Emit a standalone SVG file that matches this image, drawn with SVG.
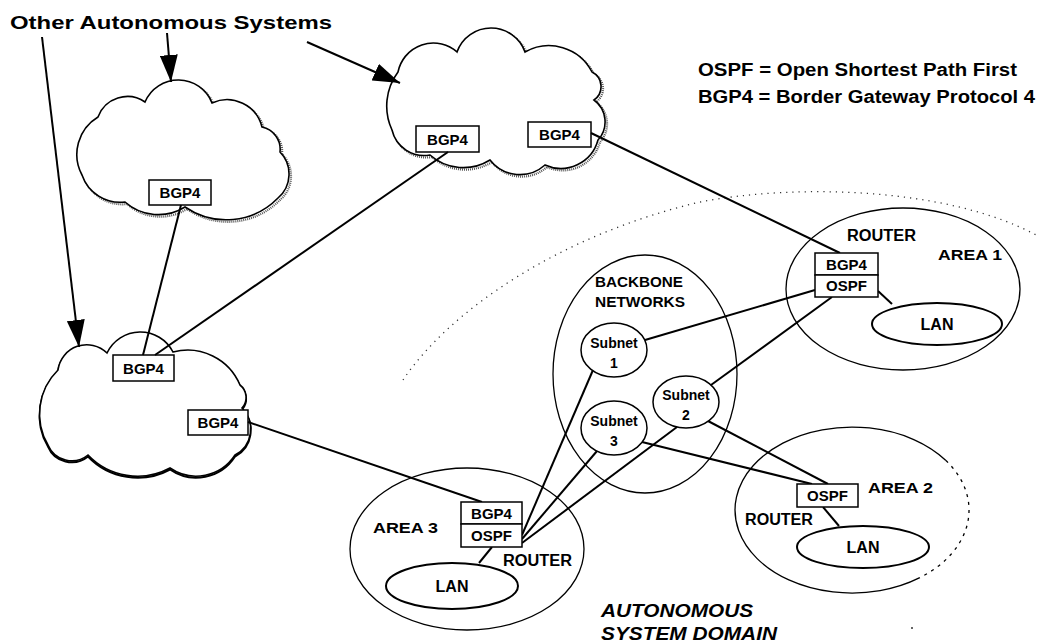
<svg xmlns="http://www.w3.org/2000/svg" width="1038" height="642" viewBox="0 0 1038 642">
<style>
.t{font-family:"Liberation Sans",Arial,Helvetica,sans-serif;font-weight:bold;fill:#000}
.c{text-anchor:middle}
.box{fill:#fff;stroke:#000;stroke-width:1.5}
.ell{fill:none;stroke:#000;stroke-width:1.3}
.lan{fill:#fff;stroke:#000;stroke-width:2}
.sub{fill:#fff;stroke:#000;stroke-width:1.5}
.cloud{fill:#fff;stroke:#000;stroke-width:1.6}
.shadow{fill:none;stroke:#555;stroke-width:2.2;stroke-dasharray:1 1}
.shadow2{fill:none;stroke:#000;stroke-width:2}
.conn{stroke:#000;stroke-width:2;fill:none}
.arrow{stroke:#000;stroke-width:2;fill:none;marker-end:url(#ah)}
.dot{stroke:#333;fill:none;stroke-width:1.3;stroke-dasharray:1.2 5}
</style>
<defs>
<marker id="ah" markerUnits="userSpaceOnUse" markerWidth="28" markerHeight="18" refX="27" refY="9" orient="auto">
<path d="M0,0 L27,9 L0,18 Z" fill="#000"/>
</marker>
</defs>
<rect width="1038" height="642" fill="#fff"/>

<!-- domain boundary -->
<path id="domain" class="dot" d="M403,380 C450,310 560,235 700,202 C800,183 950,188 1038,236"/>
<circle cx="912" cy="628" r="1" fill="#333"/>

<text class="t" x="10" y="29" font-size="18" textLength="322" lengthAdjust="spacingAndGlyphs">Other Autonomous Systems</text>
<text class="t" x="698" y="76" font-size="18" textLength="319" lengthAdjust="spacingAndGlyphs">OSPF = Open Shortest Path First</text>
<text class="t" x="698" y="103" font-size="18" textLength="337" lengthAdjust="spacingAndGlyphs">BGP4 = Border Gateway Protocol 4</text>

<g id="cloud1">
<path class="shadow" transform="translate(2,2)" d="M82,175 A43.7,43.7 0 0 1 98,117 A31.3,31.3 0 0 1 145,102 A36.2,36.2 0 0 1 212,103 A36.1,36.1 0 0 1 262,127 A22.8,22.8 0 0 1 280,152 A31.5,31.5 0 0 1 278,198 A72.6,72.6 0 0 1 185,207 A50.3,50.3 0 0 1 125,202 A40.3,40.3 0 0 1 82,175 Z"/>
<path class="cloud" d="M82,175 A43.7,43.7 0 0 1 98,117 A31.3,31.3 0 0 1 145,102 A36.2,36.2 0 0 1 212,103 A36.1,36.1 0 0 1 262,127 A22.8,22.8 0 0 1 280,152 A31.5,31.5 0 0 1 278,198 A72.6,72.6 0 0 1 185,207 A50.3,50.3 0 0 1 125,202 A40.3,40.3 0 0 1 82,175 Z"/>
<rect class="box" x="149" y="180" width="62" height="25"/>
<text class="t c" x="180" y="198" font-size="15">BGP4</text>
</g>

<g id="cloud2">
<path class="shadow" transform="translate(2,2)" d="M392,130 A57,57 0 0 1 398,72 A36,36 0 0 1 457,52 A36.1,36.1 0 0 1 525,52 A48.3,48.3 0 0 1 592,72 A16.3,16.3 0 0 1 594,100 A27,27 0 0 1 598,140 A38.5,38.5 0 0 1 545,165 A37.8,37.8 0 0 1 490,160 A50.3,50.3 0 0 1 430,155 A33,33 0 0 1 392,130 Z"/>
<path class="cloud" d="M392,130 A57,57 0 0 1 398,72 A36,36 0 0 1 457,52 A36.1,36.1 0 0 1 525,52 A48.3,48.3 0 0 1 592,72 A16.3,16.3 0 0 1 594,100 A27,27 0 0 1 598,140 A38.5,38.5 0 0 1 545,165 A37.8,37.8 0 0 1 490,160 A50.3,50.3 0 0 1 430,155 A33,33 0 0 1 392,130 Z"/>
<rect class="box" x="416" y="126" width="63" height="26"/>
<text class="t c" x="447.5" y="144.5" font-size="15">BGP4</text>
<rect class="box" x="528" y="122" width="63" height="25"/>
<text class="t c" x="559.5" y="140" font-size="15">BGP4</text>
</g>

<g id="cloud3">
<path class="shadow2" transform="translate(0,1.5)" d="M48,445 A61.6,61.6 0 0 1 58,370 A29,29 0 0 1 107,353 A36.8,36.8 0 0 1 173,352 A56.7,56.7 0 0 1 240,385 A15.7,15.7 0 0 1 242,408 A29.5,29.5 0 0 1 235,455 A46.2,46.2 0 0 1 170,468 A68.5,68.5 0 0 1 88,455 A25.8,25.8 0 0 1 48,445 Z"/>
<path class="cloud" d="M48,445 A61.6,61.6 0 0 1 58,370 A29,29 0 0 1 107,353 A36.8,36.8 0 0 1 173,352 A56.7,56.7 0 0 1 240,385 A15.7,15.7 0 0 1 242,408 A29.5,29.5 0 0 1 235,455 A46.2,46.2 0 0 1 170,468 A68.5,68.5 0 0 1 88,455 A25.8,25.8 0 0 1 48,445 Z"/>
<rect class="box" x="113" y="355" width="61" height="26"/>
<text class="t c" x="143.5" y="373.5" font-size="15">BGP4</text>
<rect class="box" x="188" y="410" width="60" height="25"/>
<text class="t c" x="218" y="428" font-size="15">BGP4</text>
</g>

<g id="backbone">
<ellipse class="ell" cx="645" cy="374" rx="92" ry="119"/>
<text class="t" x="595" y="287" font-size="14" textLength="88" lengthAdjust="spacingAndGlyphs">BACKBONE</text>
<text class="t" x="595" y="307" font-size="14" textLength="90" lengthAdjust="spacingAndGlyphs">NETWORKS</text>
</g>

<g id="area1">
<ellipse class="ell" cx="903" cy="289" rx="117" ry="81"/>
<text class="t" x="847" y="241" font-size="16" textLength="69" lengthAdjust="spacingAndGlyphs">ROUTER</text>
<text class="t" x="938" y="260" font-size="15" textLength="64" lengthAdjust="spacingAndGlyphs">AREA 1</text>
</g>
<g id="lan1">
<ellipse class="lan" cx="937" cy="324" rx="65" ry="21"/>
<text class="t c" x="937" y="330" font-size="16">LAN</text>
</g>

<g id="area2">
<path class="ell" d="M919.8,577.7 A117,83 0 1 1 945.9,460.5"/>
<path class="ell" stroke-dasharray="3 5" d="M945.9,460.5 A117,83 0 0 1 919.8,577.7"/>
<text class="t" x="868" y="493" font-size="15" textLength="65" lengthAdjust="spacingAndGlyphs">AREA 2</text>
<text class="t" x="745" y="525" font-size="16" textLength="68" lengthAdjust="spacingAndGlyphs">ROUTER</text>
</g>
<g id="lan2">
<ellipse class="lan" cx="863" cy="547" rx="66" ry="21"/>
<text class="t c" x="863" y="553" font-size="16">LAN</text>
</g>

<g id="area3">
<ellipse class="ell" cx="467" cy="549" rx="117" ry="81"/>
<text class="t" x="373" y="533" font-size="15" textLength="65" lengthAdjust="spacingAndGlyphs">AREA 3</text>
<text class="t" x="503" y="566" font-size="16" textLength="69" lengthAdjust="spacingAndGlyphs">ROUTER</text>
</g>
<g id="lan3">
<ellipse class="lan" cx="452" cy="586" rx="66" ry="23"/>
<text class="t c" x="452" y="592" font-size="16">LAN</text>
</g>

<g id="connectors">
<line class="conn" x1="181" y1="205" x2="143" y2="355"/>
<line class="conn" x1="448" y1="152" x2="155" y2="355"/>
<line class="conn" x1="591" y1="133" x2="840" y2="253"/>
<line class="conn" x1="248" y1="422" x2="482" y2="502"/>
<line class="conn" x1="645" y1="340" x2="815" y2="290"/>
<line class="conn" x1="711" y1="385" x2="832" y2="297"/>
<line class="conn" x1="878" y1="291" x2="892" y2="304"/>
<line class="conn" x1="593" y1="370" x2="522" y2="535"/>
<line class="conn" x1="597" y1="451" x2="522" y2="539"/>
<line class="conn" x1="677" y1="427" x2="522" y2="543"/>
<line class="conn" x1="642" y1="442" x2="812" y2="484"/>
<line class="conn" x1="708" y1="421" x2="828" y2="484"/>
<line class="conn" x1="823" y1="507" x2="839" y2="526"/>
<line class="conn" x1="492" y1="547" x2="479" y2="563"/>
<line class="arrow" x1="42" y1="37" x2="79" y2="347"/>
<line class="arrow" x1="167" y1="33" x2="171" y2="82"/>
<line class="arrow" x1="307" y1="42" x2="400" y2="83"/>
</g>

<g id="subnet1">
<ellipse class="sub" cx="614" cy="350" rx="33" ry="27"/>
<text class="t c" x="614" y="348" font-size="14">Subnet</text>
<text class="t c" x="614" y="368" font-size="14">1</text>
</g>
<g id="subnet2">
<ellipse class="sub" cx="686" cy="402" rx="33" ry="26"/>
<text class="t c" x="686" y="400" font-size="14">Subnet</text>
<text class="t c" x="686" y="420" font-size="14">2</text>
</g>
<g id="subnet3">
<ellipse class="sub" cx="614" cy="428" rx="33" ry="27"/>
<text class="t c" x="614" y="426" font-size="14">Subnet</text>
<text class="t c" x="614" y="446" font-size="14">3</text>
</g>

<g id="router1">
<rect class="box" x="815" y="253" width="63" height="22"/>
<text class="t c" x="846.5" y="269.5" font-size="15">BGP4</text>
<rect class="box" x="815" y="275" width="63" height="22"/>
<text class="t c" x="846.5" y="291" font-size="15">OSPF</text>
</g>
<g id="router2">
<rect class="box" x="797" y="484" width="61" height="23"/>
<text class="t c" x="827.5" y="501" font-size="15">OSPF</text>
</g>
<g id="router3">
<rect class="box" x="461" y="502" width="61" height="22"/>
<text class="t c" x="491.5" y="518.5" font-size="15">BGP4</text>
<rect class="box" x="461" y="524" width="61" height="23"/>
<text class="t c" x="491.5" y="541" font-size="15">OSPF</text>
</g>

<g id="domain-label">
<text class="t" x="601" y="617" font-size="18" font-style="italic" textLength="152" lengthAdjust="spacingAndGlyphs">AUTONOMOUS</text>
<text class="t" x="601" y="640" font-size="18" font-style="italic" textLength="176" lengthAdjust="spacingAndGlyphs">SYSTEM DOMAIN</text>
</g>
</svg>
